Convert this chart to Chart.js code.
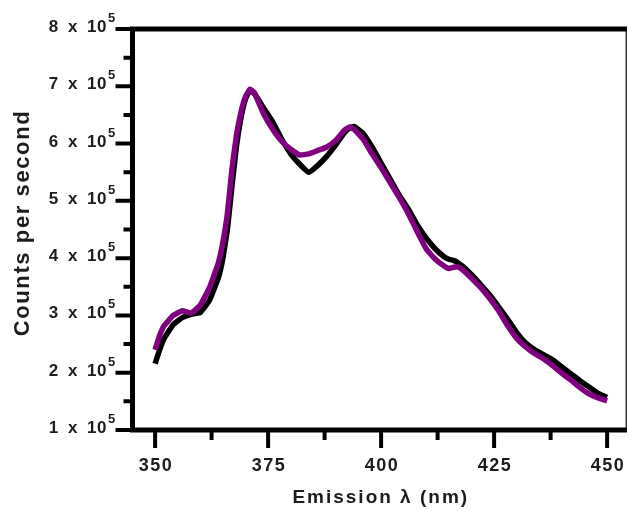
<!DOCTYPE html>
<html>
<head>
<meta charset="utf-8">
<script src="https://cdn.jsdelivr.net/npm/chart.js@4/dist/chart.umd.min.js"></script>
<style>
  html, body { margin: 0; padding: 0; background: #fff; }
  #chart { display: block; }
</style>
</head>
<body>
<canvas id="chart" width="629" height="511"></canvas>
<script>
// emission wavelength, nm
const wavelengths = [350, 351, 352, 354, 356, 358, 360, 362, 364, 365, 366, 367, 368, 369, 370, 371, 372,
  374, 376, 378, 380, 382, 384, 386, 388, 390, 392, 393, 394, 396, 398, 400, 402, 404, 406, 408, 410,
  412, 414, 415, 416, 417, 418, 420, 422, 424, 426, 428, 430, 432, 434, 436, 438, 440, 442, 444, 446, 448, 450];

// counts per second, in units of 10^5
const purpleCounts = [2.40, 2.65, 2.82, 3.00, 3.08, 3.04, 3.18, 3.48, 3.92, 4.28, 4.78, 5.55, 6.15, 6.55, 6.82, 6.95, 6.88,
  6.52, 6.25, 6.04, 5.90, 5.80, 5.82, 5.88, 5.94, 6.06, 6.24, 6.29, 6.25, 6.08, 5.82, 5.58, 5.32, 5.06, 4.78, 4.46, 4.16,
  3.98, 3.86, 3.82, 3.84, 3.85, 3.80, 3.65, 3.49, 3.30, 3.08, 2.82, 2.60, 2.45, 2.33, 2.24, 2.12, 1.99, 1.87, 1.74, 1.63, 1.56, 1.51];

const blackCounts = [2.16, 2.40, 2.60, 2.84, 2.96, 3.02, 3.05, 3.26, 3.66, 4.00, 4.50, 5.25, 5.95, 6.45, 6.78, 6.93, 6.87,
  6.62, 6.38, 6.08, 5.82, 5.64, 5.50, 5.62, 5.78, 5.98, 6.20, 6.27, 6.30, 6.18, 5.94, 5.66, 5.38, 5.10, 4.86, 4.58, 4.35,
  4.16, 4.02, 3.98, 3.96, 3.92, 3.86, 3.71, 3.54, 3.36, 3.15, 2.93, 2.70, 2.52, 2.40, 2.31, 2.22, 2.10, 1.98, 1.86, 1.75, 1.64, 1.57];

const xTicks = [350, 375, 400, 425, 450];
const xMinorTicks = [362.5, 387.5, 412.5, 437.5];
const yTicks = [1, 2, 3, 4, 5, 6, 7, 8];
const yMinorTicks = [1.5, 2.5, 3.5, 4.5, 5.5, 6.5, 7.5];
const yExponent = '5';

const TEXT = '#1c1c1c';
const FONT = '"Liberation Sans", Arial, sans-serif';

function toPoints(ys) {
  return wavelengths.map((x, i) => ({ x: x, y: ys[i] }));
}

// axes frame, ticks and labels, placed with the chart's own scales
const axesPlugin = {
  id: 'originAxes',
  afterDraw(chart) {
    const ctx = chart.ctx;
    const xs = chart.scales.x;
    const ys = chart.scales.y;
    const a = chart.chartArea;
    ctx.save();

    // thin right border
    ctx.strokeStyle = '#3a3a3a';
    ctx.lineWidth = 1.5;
    ctx.beginPath();
    ctx.moveTo(a.right - 0.75, a.top);
    ctx.lineTo(a.right - 0.75, a.bottom);
    ctx.stroke();

    // heavy left, bottom and top lines
    ctx.strokeStyle = '#000';
    ctx.lineWidth = 5;
    ctx.lineCap = 'butt';
    ctx.beginPath();
    ctx.moveTo(a.left, a.top - 2.5);
    ctx.lineTo(a.left, a.bottom + 2.5);
    ctx.moveTo(a.left - 2.5, a.bottom);
    ctx.lineTo(a.right, a.bottom);
    ctx.moveTo(a.left - 2.5, a.top);
    ctx.lineTo(a.right, a.top);
    ctx.stroke();

    // ticks
    ctx.lineWidth = 4;
    ctx.beginPath();
    yTicks.forEach(v => {
      const py = ys.getPixelForValue(v);
      ctx.moveTo(a.left, py);
      ctx.lineTo(a.left - 17, py);
    });
    yMinorTicks.forEach(v => {
      const py = ys.getPixelForValue(v);
      ctx.moveTo(a.left, py);
      ctx.lineTo(a.left - 9, py);
    });
    xTicks.forEach(v => {
      const px = xs.getPixelForValue(v);
      ctx.moveTo(px, a.bottom);
      ctx.lineTo(px, a.bottom + 18);
    });
    xMinorTicks.forEach(v => {
      const px = xs.getPixelForValue(v);
      ctx.moveTo(px, a.bottom);
      ctx.lineTo(px, a.bottom + 10);
    });
    ctx.stroke();

    ctx.fillStyle = TEXT;

    // y tick labels: "n x 10" with a raised exponent
    yTicks.forEach(v => {
      const py = ys.getPixelForValue(v);
      ctx.font = 'bold 17px ' + FONT;
      ctx.letterSpacing = '0.5px';
      ctx.wordSpacing = '4px';
      ctx.textAlign = 'right';
      ctx.textBaseline = 'alphabetic';
      ctx.fillText(v + ' x 10', 107, py + 3);
      ctx.font = 'bold 13px ' + FONT;
      ctx.letterSpacing = '0px';
      ctx.wordSpacing = '0px';
      ctx.textAlign = 'left';
      ctx.fillText(yExponent, 108, py - 7);
    });

    // x tick labels
    ctx.font = 'bold 18px ' + FONT;
    ctx.letterSpacing = '1.5px';
    ctx.textAlign = 'center';
    ctx.textBaseline = 'alphabetic';
    xTicks.forEach(v => {
      ctx.fillText(String(v), xs.getPixelForValue(v) + 1, 471);
    });

    // axis titles
    ctx.font = 'bold 19px ' + FONT;
    ctx.letterSpacing = '2px';
    ctx.fillText('Emission \u03bb (nm)', (a.left + a.right) / 2 + 1, 503);

    ctx.save();
    ctx.translate(29, 223);
    ctx.rotate(-Math.PI / 2);
    ctx.font = 'bold 22px ' + FONT;
    ctx.letterSpacing = '1.6px';
    ctx.textAlign = 'center';
    ctx.fillText('Counts per second', 0, 0);
    ctx.restore();

    ctx.restore();
  }
};

new Chart(document.getElementById('chart'), {
  type: 'line',
  data: {
    datasets: [
      {
        label: 'purple',
        data: toPoints(purpleCounts),
        borderColor: '#800080',
        borderWidth: 5.5,
        pointRadius: 0,
        tension: 0.1,
        fill: false
      },
      {
        label: 'black',
        data: toPoints(blackCounts),
        borderColor: '#000000',
        borderWidth: 5.5,
        pointRadius: 0,
        tension: 0.1,
        fill: false
      }
    ]
  },
  options: {
    responsive: false,
    animation: false,
    devicePixelRatio: 1,
    layout: { padding: { left: 132.5, right: 2, top: 29, bottom: 81 } },
    plugins: {
      legend: { display: false },
      tooltip: { enabled: false }
    },
    scales: {
      x: { type: 'linear', min: 345, max: 454.4, display: false },
      y: { type: 'linear', min: 1, max: 8, display: false }
    }
  },
  plugins: [axesPlugin]
});
</script>
</body>
</html>
